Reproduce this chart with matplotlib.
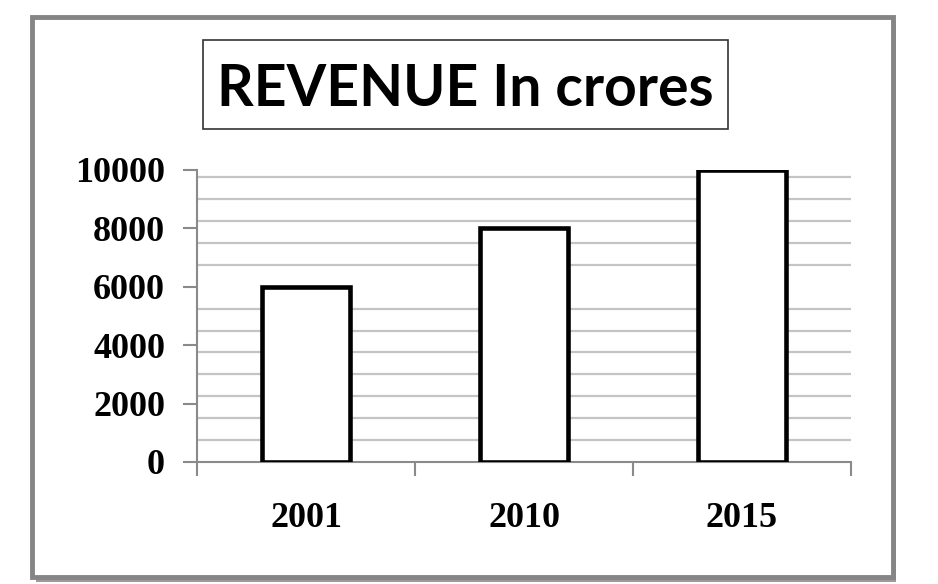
import numpy as np
import matplotlib
matplotlib.use("Agg")
from matplotlib import pyplot as plt
from matplotlib.patches import Rectangle
from matplotlib.ticker import MultipleLocator, FixedLocator

# data
years = ["2001", "2010", "2015"]
revenue = [6000, 8000, 10000]
y_ticks = [0, 2000, 4000, 6000, 8000, 10000]
title = "REVENUE In crores"

W, H = 938, 584
fig = plt.figure(figsize=(W / 100, H / 100), dpi=100)


def fx(px):
    return px / W


def fy(py):
    return 1 - py / H


# outer frame with a little shadow
fig.patches.append(Rectangle((fx(36), fy(582)), fx(896) - fx(36), fy(21) - fy(582),
                             transform=fig.transFigure, facecolor="#9a9a9a",
                             edgecolor="none", zorder=0))
fig.patches.append(Rectangle((fx(32), fy(577)), fx(893) - fx(32), fy(17) - fy(577),
                             transform=fig.transFigure, facecolor="white",
                             edgecolor="#858585", linewidth=3.5, zorder=1))

# boxed title
fig.patches.append(Rectangle((fx(203), fy(129)), fx(728) - fx(203), fy(40) - fy(129),
                             transform=fig.transFigure, facecolor="white",
                             edgecolor="#333333", linewidth=1.2, zorder=2))
fig.text(fx(465), fy(89), title, ha="center", va="center", fontsize=41,
         fontweight="bold", family="Lato", zorder=3)

ax = fig.add_axes([fx(197), fy(462), fx(851) - fx(197), fy(170) - fy(462)])
ax.set_zorder(4)
ax.patch.set_alpha(0)

x = np.arange(len(years))
ax.bar(x, revenue, width=0.4, facecolor="white", edgecolor="black",
       linewidth=3.3, zorder=3)

ax.set_xlim(-0.5, len(years) - 0.5)
ax.set_ylim(0, 10000)

# y axis
ax.set_yticks(y_ticks)
ax.set_yticklabels([str(v) for v in y_ticks], family="Liberation Serif",
                   fontweight="bold", fontsize=26)
ax.tick_params(axis="y", which="major", direction="out", length=10, width=1.5,
               color="#8a8a8a", pad=13)
ax.yaxis.set_minor_locator(MultipleLocator(750))
ax.tick_params(axis="y", which="minor", length=0)
ax.grid(axis="y", which="minor", color="#c4c4c4", linewidth=1.6, zorder=0)
ax.grid(axis="y", which="major", visible=False)

# x axis: labels at centres, ticks on boundaries
ax.set_xticks(x)
ax.set_xticklabels(years, family="Liberation Serif", fontweight="bold", fontsize=26)
ax.tick_params(axis="x", which="major", length=0, pad=29)
ax.xaxis.set_minor_locator(FixedLocator(np.arange(len(years) + 1) - 0.5))
ax.tick_params(axis="x", which="minor", direction="out", length=10, width=1.5,
               color="#8a8a8a")

for side in ["top", "right"]:
    ax.spines[side].set_visible(False)
for side in ["left", "bottom"]:
    ax.spines[side].set_color("#8a8a8a")
    ax.spines[side].set_linewidth(1.5)

fig.savefig("out.png", dpi=100)
